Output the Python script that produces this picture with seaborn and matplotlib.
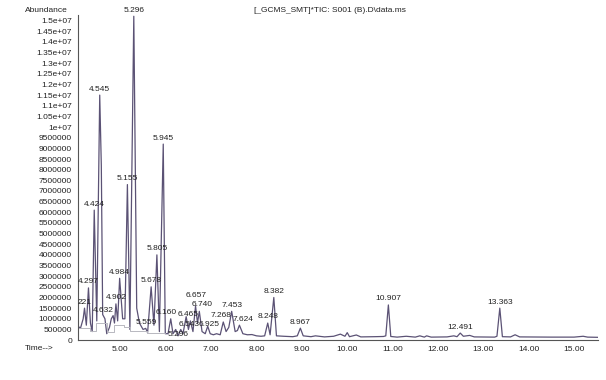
import numpy as np
import pandas as pd
import matplotlib
matplotlib.use("Agg")
import matplotlib.pyplot as plt
import seaborn as sns

# trace vertices (time in min, abundance)
tiempo = [4.07, 4.12, 4.18, 4.21, 4.25, 4.297, 4.34, 4.38, 4.424, 4.48, 4.545, 4.58, 4.61,
          4.66, 4.70, 4.76, 4.80, 4.84, 4.87, 4.902, 4.94, 4.984, 5.05, 5.10, 5.155, 5.21,
          5.296, 5.36, 5.42, 5.50, 5.559, 5.60, 5.678, 5.74, 5.805, 5.86, 5.945, 5.99, 6.05,
          6.11, 6.16, 6.22, 6.27, 6.33, 6.38, 6.45, 6.50, 6.543, 6.60, 6.657, 6.70, 6.740,
          6.80, 6.87, 6.925, 6.98, 7.05, 7.12, 7.20, 7.268, 7.33, 7.39, 7.453, 7.53, 7.58,
          7.624, 7.70, 7.80, 7.90, 8.00, 8.10, 8.18, 8.248, 8.30, 8.382, 8.44, 8.60, 8.80,
          8.90, 8.967, 9.03, 9.20, 9.30, 9.50, 9.70, 9.85, 9.95, 10.00, 10.05, 10.20, 10.30,
          10.60, 10.80, 10.85, 10.907, 10.96, 11.10, 11.30, 11.50, 11.60, 11.70, 11.75, 11.85,
          12.20, 12.35, 12.42, 12.491, 12.56, 12.70, 12.80, 13.25, 13.30, 13.363, 13.42,
          13.60, 13.70, 13.80, 14.50, 15.00, 15.20, 15.30, 15.53]
abundancia = [6.5e5, 5.5e5, 1.0e6, 1.5e6, 7e5, 2.45e6, 8e5, 4e5, 6.1e6, 9e5, 1.15e7, 8.2e6, 1.2e6,
              1.0e6, 3e5, 6e5, 1.0e6, 1.15e6, 8e5, 1.7e6, 9e5, 2.9e6, 1.0e6, 1.0e6, 7.3e6, 5e5,
              1.52e7, 1.5e6, 8e5, 5e5, 5.5e5, 3.5e5, 2.5e6, 7e5, 4.0e6, 4e5, 9.2e6, 3e5, 3e5,
              1.0e6, 3e5, 5e5, 2e5, 5e5, 3e5, 1.1e6, 5e5, 9e5, 4e5, 1.6e6, 8e5, 1.35e6,
              4e5, 3e5, 6.5e5, 3e5, 2.5e5, 3e5, 2.5e5, 8.5e5, 4e5, 6e5, 1.35e6, 4e5, 4.5e5,
              7e5, 3e5, 2.5e5, 2.6e5, 2e5, 1.8e5, 2e5, 8e5, 2.5e5, 2.0e6, 2e5, 1.8e5, 1.6e5,
              2e5, 5.6e5, 2e5, 1.6e5, 2e5, 1.5e5, 1.8e5, 2.8e5, 1.8e5, 3.5e5, 1.6e5, 2.4e5, 1.5e5,
              1.6e5, 1.7e5, 2e5, 1.65e6, 1.7e5, 1.4e5, 1.8e5, 1.4e5, 2e5, 1.4e5, 2e5, 1.4e5,
              1.5e5, 2e5, 1.6e5, 3.3e5, 1.8e5, 2.2e5, 1.5e5, 1.4e5, 1.8e5, 1.5e6, 1.6e5,
              1.5e5, 2.5e5, 1.5e5, 1.4e5, 1.4e5, 1.8e5, 1.4e5, 1.3e5]

# integration baseline segments (light grey)
base_t = [4.07, 4.33, 4.33, 4.47, 4.47, 4.70, 4.70, 4.86, 4.86, 5.08, 5.08, 5.22, 5.22, 5.58, 5.58, 5.98]
base_y = [5.5e5, 5.5e5, 4.5e5, 4.5e5, 8e5, 8e5, 4e5, 4e5, 7e5, 7e5, 6e5, 6e5, 4.5e5, 4.5e5, 3.5e5, 3.5e5]

# peak labels: text, x (min), bottom of text (abundance)
etiquetas = ["221", "4.297", "4.424", "4.545", "4.632", "4.902", "4.984", "5.155", "5.296",
             "5.559", "5.678", "5.805", "5.945", "6.160", "5.296", "6.465", "6.543",
             "6.657", "6.740", "6.925", "7.268", "7.453", "7.624", "8.248", "8.382", "8.967",
             "10.907", "12.491", "13.363"]
et_x = [4.22, 4.297, 4.424, 4.545, 4.63, 4.90, 4.984, 5.155, 5.296, 5.56, 5.678, 5.805, 5.945,
        6.02, 6.28, 6.50, 6.52, 6.66, 6.80, 6.96, 7.22, 7.453, 7.70, 8.248, 8.382, 8.967,
        10.907, 12.491, 13.363]
et_y = [1.62e6, 2.57e6, 6.22e6, 1.162e7, 1.22e6, 1.82e6, 3.02e6, 7.42e6, 1.532e7, 6.7e5, 2.62e6,
        4.12e6, 9.32e6, 1.15e6, 1.2e5, 1.05e6, 5.8e5, 1.95e6, 1.5e6, 5.5e5, 1.0e6, 1.47e6, 8.2e5,
        9.2e5, 2.12e6, 6.8e5, 1.77e6, 4.5e5, 1.62e6]

xticks = [5, 6, 7, 8, 9, 10, 11, 12, 13, 14, 15]
yticks = np.arange(0, 15000001, 500000)

sns.set_style("white")
plt.rcParams["font.family"] = ["Liberation Sans", "DejaVu Sans"]

fig = plt.figure(figsize=(6.06, 3.8), dpi=100)
ax = fig.add_axes([0.129, 0.105, 0.858, 0.855])

df = pd.DataFrame({"t": tiempo, "a": abundancia})
sns.lineplot(data=df, x="t", y="a", estimator=None, sort=False, color="#5b5275", lw=0.9, ax=ax)
ax.plot(base_t, base_y, color="#b8b8c0", lw=0.7)

for txt, x, y in zip(etiquetas, et_x, et_y):
    ax.text(x, y, txt, fontsize=6, ha="center", va="bottom", color="#222222")

ax.set_xlim(4.07, 15.53)
ax.set_ylim(0, 1.525e7)
ax.set_xticks(xticks)
ax.set_xticklabels([f"{v:.2f}" for v in xticks], fontsize=6)
ax.set_yticks(yticks)
ylabels = []
for v in yticks:
    if v >= 1e7:
        s = f"{v:.2e}".replace("e+07", "").rstrip("0").rstrip(".")
        ylabels.append(s + "e+07")
    else:
        ylabels.append(str(int(v)))
ax.set_yticklabels(ylabels, fontsize=6)
ax.tick_params(axis="both", length=2.5, width=0.6, pad=2, colors="#222222", direction="out")
ax.set_xlabel("")
ax.set_ylabel("")
for s in ["top", "right"]:
    ax.spines[s].set_visible(False)
for s in ["left", "bottom"]:
    ax.spines[s].set_color("#555555")
    ax.spines[s].set_linewidth(0.8)

fig.text(0.041, 0.973, "Abundance", fontsize=6, color="#222222", va="center")
fig.text(0.041, 0.083, "Time-->", fontsize=6, color="#222222", va="center")
fig.text(0.545, 0.973, "[_GCMS_SMT]*TIC: S001 (B).D\\data.ms", fontsize=6, color="#222222", va="center", ha="center")

fig.savefig("out.png", dpi=100)
